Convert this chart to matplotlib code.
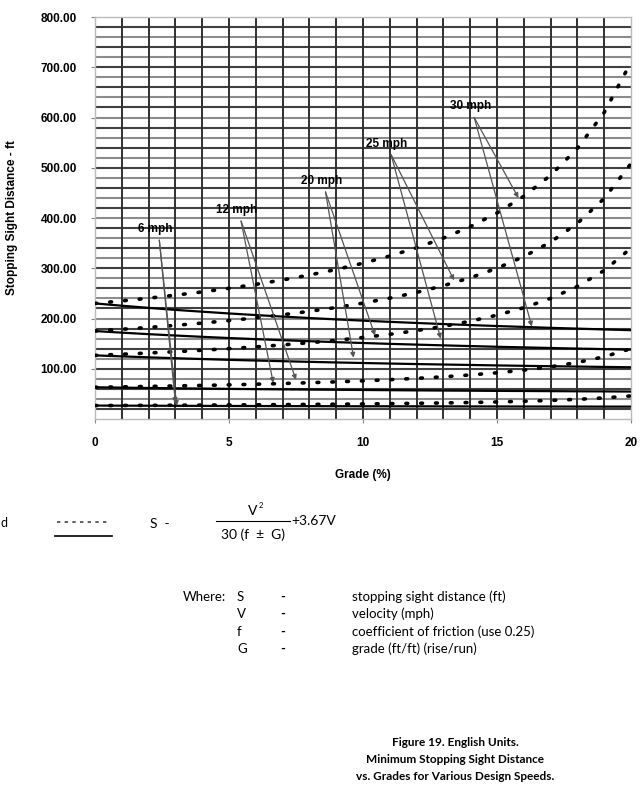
import numpy as np
import matplotlib
matplotlib.use('Agg')
import matplotlib.pyplot as plt
from matplotlib.lines import Line2D

# grade (%) and stopping sight distance (ft)
grade = [0, 1, 2, 3, 4, 5, 6, 7, 8, 9, 10, 11, 12, 13, 14, 15, 16, 17, 18, 19, 20]

down_6 = [26.8, 27.0, 27.2, 27.5, 27.7, 28.0, 28.3, 28.7, 29.1, 29.5, 30.0,
          30.6, 31.3, 32.0, 32.9, 34.0, 35.4, 37.0, 39.2, 42.0, 46.0]
up_6 = [26.8, 26.6, 26.5, 26.3, 26.2, 26.0, 25.9, 25.8, 25.7, 25.5, 25.4,
        25.4, 25.3, 25.2, 25.1, 25.0, 24.9, 24.9, 24.8, 24.7, 24.7]
down_12 = [63.2, 64.0, 64.9, 65.9, 66.9, 68.0, 69.3, 70.7, 72.3, 74.0, 76.0,
           78.3, 81.0, 84.0, 87.7, 92.0, 97.4, 104.0, 112.6, 124.0, 140.0]
up_12 = [63.2, 62.5, 61.8, 61.2, 60.6, 60.0, 59.5, 59.0, 58.6, 58.2, 57.8,
         57.4, 57.0, 56.7, 56.4, 56.0, 55.8, 55.5, 55.2, 55.0, 54.7]
down_20 = [126.7, 129.0, 131.4, 134.0, 136.9, 140.1, 143.6, 147.5, 151.8, 156.7, 162.3,
           168.6, 176.0, 184.5, 194.6, 206.7, 221.5, 240.1, 263.9, 295.6, 340.1]
up_20 = [126.7, 124.7, 122.8, 121.0, 119.4, 117.8, 116.4, 115.1, 113.8, 112.6, 111.5,
         110.4, 109.4, 108.5, 107.6, 106.7, 105.9, 105.1, 104.4, 103.7, 103.0]
down_25 = [175.1, 178.6, 182.3, 186.4, 191.0, 195.9, 201.4, 207.5, 214.3, 222.0, 230.6,
           240.6, 252.0, 265.4, 281.1, 300.1, 323.2, 352.2, 389.4, 439.0, 508.4]
up_25 = [175.1, 171.9, 168.9, 166.2, 163.6, 161.2, 159.0, 156.9, 154.9, 153.0, 151.3,
         149.6, 148.1, 146.6, 145.2, 143.8, 142.6, 141.4, 140.2, 139.1, 138.1]
down_30 = [230.1, 235.1, 240.5, 246.5, 253.0, 260.1, 268.0, 276.8, 286.6, 297.6, 310.1,
           324.4, 340.9, 360.1, 382.8, 410.1, 443.4, 485.1, 538.7, 610.1, 710.1]
up_30 = [230.1, 225.5, 221.2, 217.2, 213.6, 210.1, 206.9, 203.9, 201.0, 198.3, 195.8,
         193.4, 191.2, 189.0, 187.0, 185.1, 183.3, 181.5, 179.9, 178.3, 176.8]

downgrades = [down_6, down_12, down_20, down_25, down_30]
upgrades = [up_6, up_12, up_20, up_25, up_30]

# speed labels: text, label position, arrow tips
speed_labels = ["6 mph", "12 mph", "20 mph", "25 mph", "30 mph"]
label_xy = [(2.25, 378), (5.3, 416), (8.45, 474), (10.9, 548), (14.0, 622)]
arrow_tips = [
    [(3.0, 32), (3.05, 26)],
    [(6.65, 72), (7.5, 78)],
    [(9.65, 122), (10.45, 166)],
    [(12.9, 160), (13.4, 276)],
    [(15.8, 440), (16.3, 184)],
]

x_ticks = [0, 5, 10, 15, 20]
y_ticks = [100, 200, 300, 400, 500, 600, 700, 800]

fig = plt.figure(figsize=(6.41, 7.85), dpi=100)
ax = fig.add_axes([0.1482, 0.4662, 0.8362, 0.5121])
ax.set_xlim(0, 20)
ax.set_ylim(0, 800)

# dense grid
for i, yv in enumerate(np.arange(20, 800, 20)):
    c = '#404040' if i % 2 == 0 else '#8c8c8c'
    ax.axhline(yv, color=c, lw=1.5, zorder=1)
for xv in range(1, 20):
    ax.axvline(xv, color='#303030', lw=1.4, zorder=1)

for s in downgrades:
    ax.plot(grade, s, color='black', lw=2.6, linestyle=(0, (0.5, 3.6)),
            dash_capstyle='round', zorder=3)
for s in upgrades:
    ax.plot(grade, s, color='black', lw=1.6, zorder=3)

for lab, (lx, ly), tips in zip(speed_labels, label_xy, arrow_tips):
    ax.text(lx, ly, lab, ha='center', va='center', fontsize=8.5,
            fontweight='bold', family='Liberation Sans', zorder=5)
    for tx, ty in tips:
        ax.annotate('', xy=(tx, ty), xytext=(lx + 0.15, ly - 22),
                    arrowprops=dict(arrowstyle='-|>', color='#555555', lw=0.9,
                                    mutation_scale=7, shrinkA=0, shrinkB=0),
                    zorder=4)

ax.set_xticks(x_ticks)
ax.set_yticks(y_ticks)
ax.set_xticklabels([str(v) for v in x_ticks], fontsize=8.5, fontweight='bold',
                   family='Liberation Sans')
ax.set_yticklabels([f"{v:.2f}" for v in y_ticks], fontsize=8.5, fontweight='bold',
                   family='Liberation Sans')
ax.tick_params(axis='both', length=3, width=0.8, color='#888888', pad=10)
for sp in ax.spines.values():
    sp.set_color('#bbbbbb')
    sp.set_linewidth(1.0)
ax.set_xlabel("Grade (%)", fontsize=8.5, fontweight='bold', family='Liberation Sans',
              labelpad=14)
ax.set_ylabel("Stopping Sight Distance - ft", fontsize=8.5, fontweight='bold',
              family='Liberation Sans', labelpad=16)

# legend samples and formula below the chart
tf = 'Lato'
fig.text(0.5 / 641, 1 - 523 / 785, "d", ha='left', va='center', fontsize=9, family=tf)
fig.add_artist(Line2D([57 / 641, 108 / 641], [1 - 522 / 785] * 2, color='#444444',
                      lw=1.2, linestyle=(0, (2, 2.6)), transform=fig.transFigure))
fig.add_artist(Line2D([55 / 641, 112 / 641], [1 - 536 / 785] * 2, color='black',
                      lw=1.2, transform=fig.transFigure))

fig.text(150 / 641, 1 - 524 / 785, "S  -", ha='left', va='center', fontsize=10, family=tf)
fig.text(253 / 641, 1 - 511 / 785, "V", ha='center', va='center', fontsize=10, family=tf)
fig.text(259 / 641, 1 - 505 / 785, "2", ha='left', va='center', fontsize=5.5, family=tf)
fig.add_artist(Line2D([216 / 641, 290 / 641], [1 - 521 / 785] * 2, color='black',
                      lw=0.8, transform=fig.transFigure))
fig.text(253 / 641, 1 - 535 / 785, "30 (f  ±  G)", ha='center', va='center', fontsize=10,
         family=tf)
fig.text(291 / 641, 1 - 521 / 785, "+3.67V", ha='left', va='center', fontsize=10, family=tf)

where_sym = ["S", "V", "f", "G"]
where_txt = ["stopping sight distance (ft)", "velocity (mph)",
             "coefficient of friction (use 0.25)", "grade (ft/ft) (rise/run)"]
row_y = [597, 614, 632, 649]
fig.text(183 / 641, 1 - row_y[0] / 785, "Where:", ha='left', va='center', fontsize=9.5,
         family=tf)
for sym, txt, ry in zip(where_sym, where_txt, row_y):
    fig.text(237 / 641, 1 - ry / 785, sym, ha='left', va='center', fontsize=9.5, family=tf)
    fig.text(283 / 641, 1 - ry / 785, "-", ha='center', va='center', fontsize=9.5,
             family=tf, fontweight='bold')
    fig.text(352 / 641, 1 - ry / 785, txt, ha='left', va='center', fontsize=9.5, family=tf)

caption = ["Figure 19. English Units.", "Minimum Stopping Sight Distance",
           "vs. Grades for Various Design Speeds."]
for i, line in enumerate(caption):
    fig.text(455 / 641, 1 - (743 + 16.5 * i) / 785, line, ha='center', va='center',
             fontsize=8.5, fontweight='bold', family=tf)

fig.savefig("out.png", dpi=100)
